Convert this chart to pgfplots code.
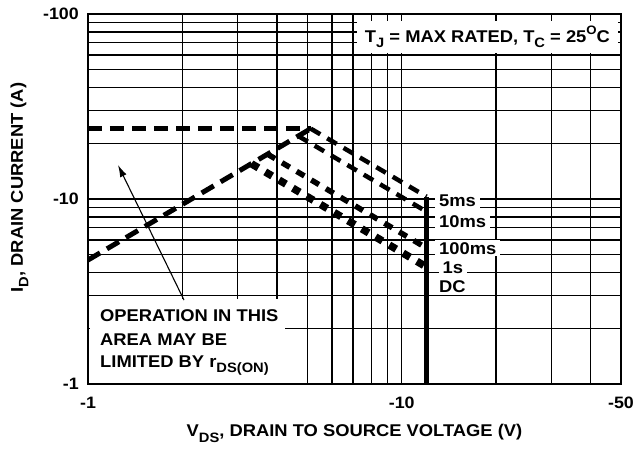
\documentclass[border=0pt]{standalone}
\usepackage{fontspec}
\setmainfont{Liberation Sans}[FakeStretch=1.08]
\usepackage{pgfplots}
\pgfplotsset{compat=1.18}
\usetikzlibrary{arrows.meta}
\newcommand{\sub}[1]{\raisebox{-0.32em}{\scalebox{0.8}{#1}}}
\newcommand{\degO}{\raisebox{0.42em}{\scalebox{0.72}{O}}}
\begin{document}
\begin{tikzpicture}
\begin{axis}[
  at={(0pt,0pt)}, anchor=south west,
  scale only axis, width=533pt, height=370pt,
  xmode=log, ymode=log,
  xmin=1, xmax=50, ymin=1, ymax=100,
  xtick={1,10,50}, xticklabels={-1,-10,-50},
  ytick={1,10,100}, yticklabels={-1,-10,-100},
  minor xtick={2,3,4,5,6,7,8,9,20,30,40},
  minor ytick={2,3,4,5,6,7,8,9,20,30,40,50,60,70,80,90},
  grid=both,
  major grid style={black, line width=1.5pt},
  minor grid style={black, line width=1.5pt},
  axis line style={line width=2.2pt},
  major tick length=0pt, minor tick length=0pt,
  tick label style={font=\fontsize{16.5}{19}\selectfont\bfseries},
  xticklabel style={anchor=north, inner sep=0pt, yshift=-13pt},
  yticklabel style={anchor=east, inner sep=0pt, xshift=-9pt},
  label style={font=\fontsize{17}{20}\selectfont\bfseries},
  xlabel={V\sub{DS}, DRAIN TO SOURCE VOLTAGE (V)},
  ylabel={I\sub{D}, DRAIN CURRENT (A)},
  xlabel style={at={(rel axis cs:0.5,-0.1432)}, anchor=base, inner sep=0pt},
  ylabel style={at={(rel axis cs:-0.122,0.531)}, anchor=base, inner sep=0pt},
]
% white areas behind annotations
\fill[white] (rel axis cs:0.004,0.004) rectangle (rel axis cs:0.37,0.2297);
\node[font=\fontsize{17}{20}\selectfont\bfseries, anchor=base west, inner sep=0pt] at (rel axis cs:0.0225,0.1676) {OPERATION IN THIS};
\node[font=\fontsize{17}{20}\selectfont\bfseries, anchor=base west, inner sep=0pt] at (rel axis cs:0.0225,0.1054) {AREA MAY BE};
\node[font=\fontsize{17}{20}\selectfont\bfseries, anchor=base west, inner sep=0pt] at (rel axis cs:0.0225,0.0459) {LIMITED BY r\sub{DS(ON)}};
\node[font=\fontsize{17}{20}\selectfont\bfseries, anchor=base, fill=white, inner xsep=8pt, inner ysep=5pt] at (rel axis cs:0.7495,0.9243) {T\sub{J} = MAX RATED, T\sub{C} = 25\degO C};
\node[font=\fontsize{17}{20}\selectfont\bfseries, anchor=base west, fill=white, inner xsep=4pt, inner ysep=2pt] at (rel axis cs:0.6510,0.4792) {5ms};
\node[font=\fontsize{17}{20}\selectfont\bfseries, anchor=base west, fill=white, inner xsep=4pt, inner ysep=2pt] at (rel axis cs:0.6510,0.4224) {10ms};
\node[font=\fontsize{17}{20}\selectfont\bfseries, anchor=base west, fill=white, inner xsep=4pt, inner ysep=2pt] at (rel axis cs:0.6510,0.3505) {100ms};
\node[font=\fontsize{17}{20}\selectfont\bfseries, anchor=base west, fill=white, inner xsep=4pt, inner ysep=2pt] at (rel axis cs:0.6575,0.2992) {1s};
\node[font=\fontsize{17}{20}\selectfont\bfseries, anchor=base west, fill=white, inner xsep=4pt, inner ysep=2pt] at (rel axis cs:0.6510,0.2486) {DC};
% current limit and r_DS(on) limit
\addplot[black, line width=5pt, dash pattern=on 14pt off 8pt] coordinates {(1,24) (5.13,24)};
\addplot[black, line width=5pt, dash pattern=on 14pt off 8pt] coordinates {(1,4.68) (5.13,24)};
% pulse lines
\addplot[black, line width=4.5pt, dash pattern=on 11pt off 8pt] coordinates {(5.13,24) (12,10.3)};
\addplot[black, line width=4.5pt, dash pattern=on 11pt off 8pt] coordinates {(4.68,21.9) (12,8.54)};
\addplot[black, line width=5.5pt, dash pattern=on 9pt off 8pt] coordinates {(3.73,17.5) (12,5.43)};
\addplot[black, line width=7.5pt, dash pattern=on 8pt off 8pt] coordinates {(3.32,15.5) (12,4.29)};
% DC / voltage limit
\addplot[black, line width=4.5pt] coordinates {(12,1) (12,10.3)};
% arrow
\draw[-{Latex[length=12pt,width=7pt]}, line width=1.1pt] (rel axis cs:0.1801,0.227) -- (rel axis cs:0.0563,0.5919);
\end{axis}
\pgfresetboundingbox
\useasboundingbox (-88pt,-64pt) rectangle (548pt,384pt);
\end{tikzpicture}
\end{document}
